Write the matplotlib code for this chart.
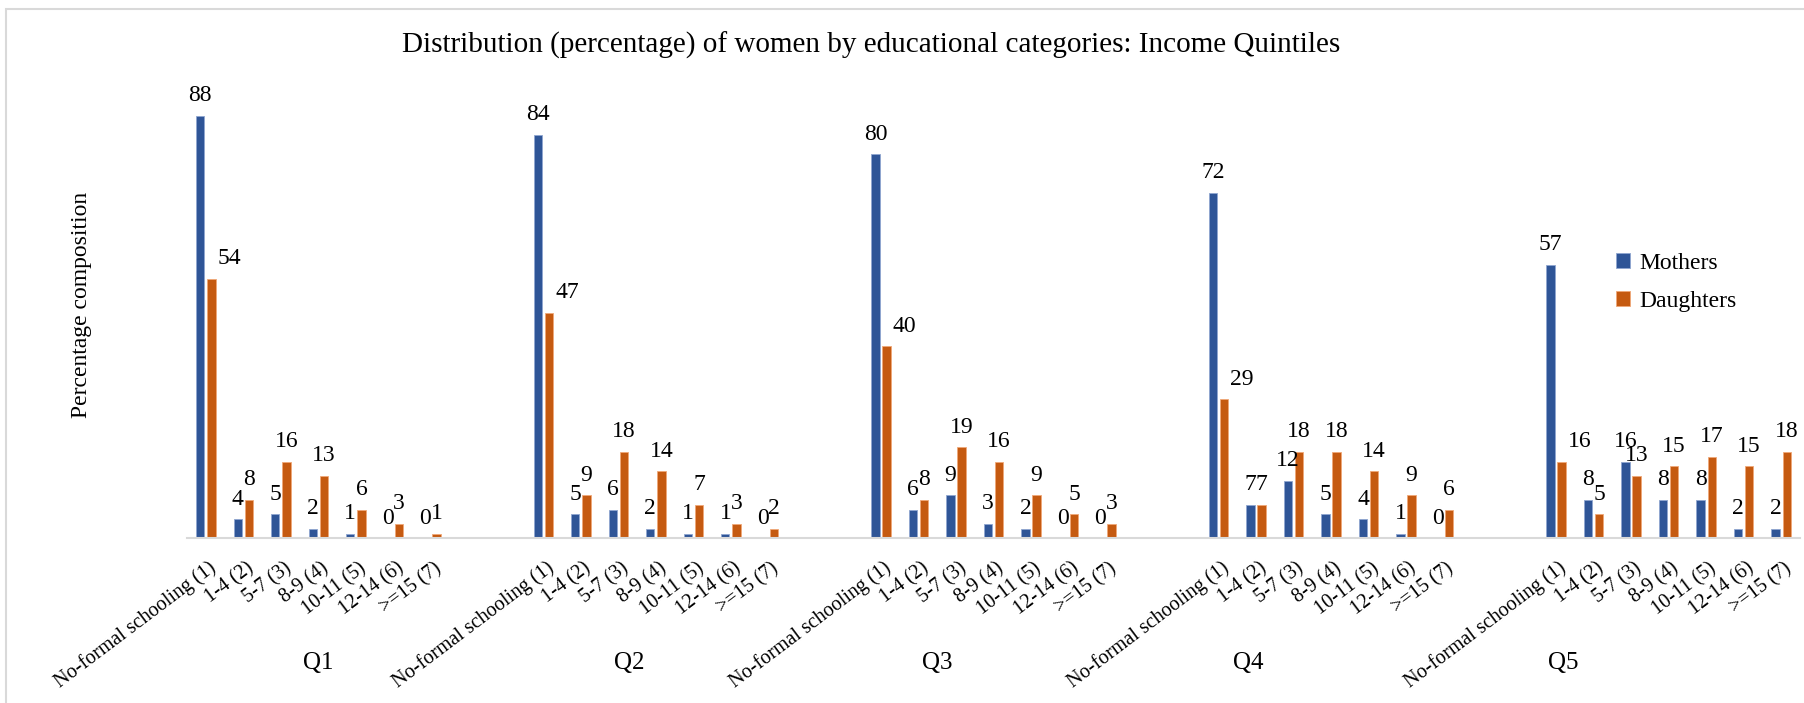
import numpy as np
import matplotlib.pyplot as plt
from matplotlib.patches import Rectangle
from matplotlib.transforms import ScaledTranslation

# Bildungskategorien und Einkommensquintile
kategorien = ["No-formal schooling (1)", "1-4 (2)", "5-7 (3)", "8-9 (4)",
              "10-11 (5)", "12-14 (6)", ">=15 (7)"]
quintile = ["Q1", "Q2", "Q3", "Q4", "Q5"]

# Anteile in Prozent, je Quintil 7 Kategorien
muetter = [
    [88, 4, 5, 2, 1, 0, 0],
    [84, 5, 6, 2, 1, 1, 0],
    [80, 6, 9, 3, 2, 0, 0],
    [72, 7, 12, 5, 4, 1, 0],
    [57, 8, 16, 8, 8, 2, 2],
]
toechter = [
    [54, 8, 16, 13, 6, 3, 1],
    [47, 9, 18, 14, 7, 3, 2],
    [40, 8, 19, 16, 9, 5, 3],
    [29, 7, 18, 18, 14, 9, 6],
    [16, 5, 13, 15, 17, 15, 18],
]

farbe_muetter = "#2F5597"
farbe_toechter = "#C55A11"

plt.rcParams['font.family'] = ['Liberation Serif', 'DejaVu Serif']

fig = plt.figure(figsize=(18.04, 7.03), dpi=100)
ax = fig.add_axes([0.1037, 0.234, 0.894, 0.683])

# je Quintil 7 Kategorien plus 2 leere Plätze als Abstand
n_kat = len(kategorien)
periode = n_kat + 2
positionen = []
for g in range(len(quintile)):
    for k in range(n_kat):
        positionen.append(g * periode + k)
positionen = np.array(positionen)

werte_m = np.array(muetter).ravel()
werte_t = np.array(toechter).ravel()

versatz = 0.148
breite = 0.22
ax.bar(positionen - versatz, werte_m, width=breite, color=farbe_muetter,
       edgecolor="#8fa6d0", linewidth=0.6, label="Mothers")
ax.bar(positionen + versatz, werte_t, width=breite, color=farbe_toechter,
       edgecolor="#f0a878", linewidth=0.6, label="Daughters")

# Datenbeschriftungen über den Balken
for x, v in zip(positionen, werte_m):
    ax.annotate(f"{v}", (x - versatz, v), xytext=(0, 7), textcoords="offset points",
                ha="center", va="bottom", fontsize=17)
for i, (x, v) in enumerate(zip(positionen, werte_t)):
    dx = 13 if i % n_kat == 0 else 0
    ax.annotate(f"{v}", (x + versatz, v), xytext=(dx, 7), textcoords="offset points",
                ha="center", va="bottom", fontsize=17)

ax.set_xlim(-0.5, positionen[-1] + 0.5)
ax.set_ylim(0, 100)

# Achsen: nur die graue Grundlinie
for seite in ["top", "right", "left"]:
    ax.spines[seite].set_visible(False)
ax.spines["bottom"].set_color("#d9d9d9")
ax.spines["bottom"].set_linewidth(1.5)
ax.set_yticks([])

ax.set_xticks(positionen)
ax.set_xticklabels(kategorien * len(quintile), rotation=37, ha="right", va="center",
                   rotation_mode="anchor", fontsize=14.5)
ax.tick_params(axis="x", length=0, pad=20)
# Beschriftungen etwas nach rechts schieben
verschiebung = ScaledTranslation(6 / 72, 0, fig.dpi_scale_trans)
for lbl in ax.get_xticklabels():
    lbl.set_transform(lbl.get_transform() + verschiebung)

# Quintil-Beschriftungen unter den Kategorien
for q, xq in zip(quintile, [3.0, 11.3, 19.5, 27.8, 36.2]):
    ax.text(xq, -0.26, q, transform=ax.get_xaxis_transform(),
            ha="center", va="center", fontsize=18)

fig.text(0.483, 0.935, "Distribution (percentage) of women by educational categories: Income Quintiles",
         ha="center", va="center", fontsize=21)
fig.text(0.045, 0.566, "Percentage composition", rotation=90,
         ha="center", va="center", fontsize=17)

ax.legend(loc="upper left", bbox_to_anchor=(0.884, 0.671), bbox_transform=fig.transFigure,
          frameon=False, fontsize=17, handlelength=0.6, handleheight=0.6,
          handletextpad=0.4, labelspacing=0.75)

# hellgrauer Rahmen des Diagrammbereichs
fig.patches.append(Rectangle((6 / 1804, -0.05), 1.1, 1.05 - 9 / 703,
                             transform=fig.transFigure, fill=False,
                             edgecolor="#d9d9d9", linewidth=1.5))

fig.savefig("out.png", dpi=100)
